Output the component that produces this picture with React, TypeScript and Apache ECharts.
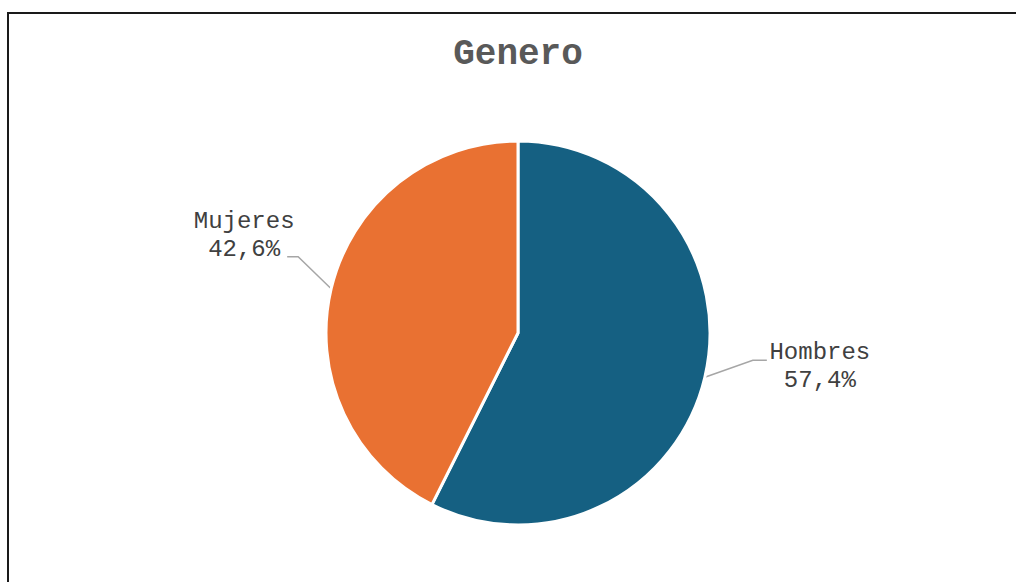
import React, { useEffect, useRef } from "react";
import * as echarts from "echarts";

const categories = ["Hombres", "Mujeres"];
const values = [57.4, 42.6];
const colors = ["#156082", "#E97132"];
const titleText = "Genero";

const FONT = "'Courier New', 'Liberation Mono', monospace";

export default function App() {
  const ref = useRef<HTMLDivElement>(null);
  useEffect(() => {
    if (!ref.current) return;
    const chart = echarts.init(ref.current, undefined, { renderer: "svg" });
    const data = categories.map((name, i) => ({
      name,
      value: values[i],
      itemStyle: { color: colors[i] },
    }));
    chart.setOption({
      animation: false,
      backgroundColor: "#ffffff",
      title: {
        text: titleText,
        left: "center",
        top: 17,
        textStyle: {
          fontFamily: FONT,
          fontSize: 36,
          fontWeight: "bold",
          color: "#595959",
        },
      },
      series: [
        {
          type: "pie",
          center: [509, 319],
          radius: 192,
          startAngle: 90,
          clockwise: true,
          data,
          itemStyle: { borderColor: "#ffffff", borderWidth: 3 },
          label: {
            show: true,
            position: "outside",
            fontFamily: FONT,
            fontSize: 24,
            color: "#404040",
            lineHeight: 28,
            formatter: (p: any) =>
              `{a|${p.name}}\n{a|${p.value.toFixed(1).replace(".", ",")}%}`,
            rich: {
              a: {
                fontFamily: FONT,
                fontSize: 24,
                color: "#404040",
                lineHeight: 28,
                width: 104,
                align: "center",
              },
            },
          },
          labelLine: {
            show: true,
            length: 30,
            length2: 14,
            lineStyle: { color: "#A6A6A6", width: 1.5 },
          },
          labelLayout: (params: any) => {
            const p0 = params.labelLinePoints[0];
            const right = params.dataIndex === 0;
            const p1 = right ? [p0[0] + 48, p0[1] - 17] : [p0[0] - 33, p0[1] - 32];
            const p2 = right ? [p1[0] + 14, p1[1]] : [p1[0] - 11, p1[1]];
            return {
              x: right ? p2[0] + 53 : p2[0] - 43,
              y: right ? p2[1] + 6 : p2[1] - 21,
              align: "center",
              verticalAlign: "middle",
              labelLinePoints: [p0, p1, p2],
            };
          },
        },
      ],
    });
    return () => chart.dispose();
  }, []);
  return (
    <div style={{ position: "fixed", inset: 0, overflow: "hidden", background: "#fff" }}>
      <div
        style={{
          position: "absolute",
          left: 7,
          top: 12,
          width: 1100,
          height: 700,
          border: "2px solid #1a1a1a",
          boxSizing: "border-box",
        }}
      >
        <div ref={ref} style={{ width: 1018, height: 568 }} />
      </div>
    </div>
  );
}
